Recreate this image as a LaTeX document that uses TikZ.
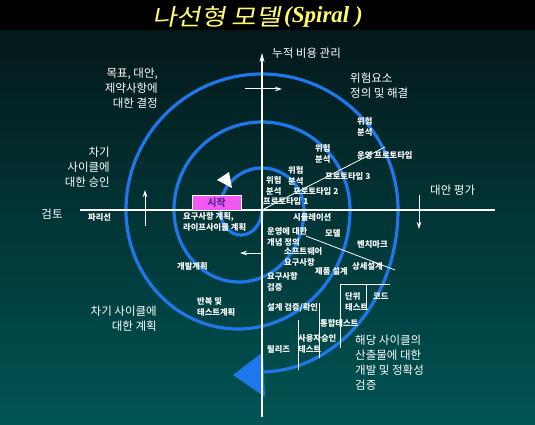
\documentclass[tikz,border=0pt]{standalone}
\usepackage{fontspec}
\newfontfamily\kr{Noto Sans CJK KR}
\newfontfamily\krslant[FakeSlant=0.2,FakeStretch=1.16]{Noto Sans CJK KR}
\newfontfamily\titleserif{Liberation Serif}
\usetikzlibrary{arrows.meta}
\definecolor{spiralblue}{RGB}{30,120,235}
\definecolor{bgtop}{RGB}{4,24,26}
\definecolor{bgbot}{RGB}{0,84,84}
\definecolor{titleyellow}{RGB}{255,255,110}
\definecolor{startpink}{RGB}{240,90,240}
\definecolor{startink}{RGB}{90,40,150}
\begin{document}
\begin{tikzpicture}[x=1pt,y=-1pt,
  spiral/.style={draw=spiralblue,line width=3.2pt},
  axisline/.style={draw=white,line width=1.1pt},
  thinline/.style={draw=white,line width=0.8pt},
  smallarrow/.style={draw=white,line width=1pt,-{Stealth[length=7pt,width=4.5pt]}},
  biglabel/.style={text=white,inner sep=0pt,font=\kr\fontsize{11.5}{15}\selectfont},
  smalllabel/.style={text=white,inner sep=0pt,align=left,font=\kr\bfseries\fontsize{8.3}{10.5}\selectfont},
  startbox/.style={fill=startpink,draw=white,line width=0.6pt,minimum width=49pt,minimum height=15pt,inner sep=0pt,text=startink,font=\kr\bfseries\fontsize{10}{12}\selectfont}
]
\useasboundingbox (0,0) rectangle (535,425);
% background
\shade[top color=bgtop,bottom color=bgbot] (0,30) rectangle (535,425);
\fill[black] (0,0) rectangle (535,30);
% title
\node[anchor=west,inner sep=0pt,text=titleyellow,font=\krslant\fontsize{23}{25}\selectfont] (title1) at (152,17) {나선형 모델};
\node[anchor=west,inner sep=0pt,text=titleyellow,font=\titleserif\bfseries\itshape\fontsize{23}{25}\selectfont] (title2) at (284,17) {(Spiral )};
% spiral
\draw[spiral] (262,210) arc[start angle=0,end angle=180,x radius=21,y radius=25]
  arc[start angle=180,end angle=360,radius=42]
  arc[start angle=0,end angle=180,x radius=65,y radius=72]
  arc[start angle=180,end angle=360,radius=88]
  arc[start angle=0,end angle=180,x radius=112,y radius=119]
  arc[start angle=180,end angle=360,radius=136]
  arc[start angle=0,end angle=90,x radius=138,y radius=162];
\fill[spiralblue] (233,375) -- (263,352) -- (265,397) -- cycle;
\fill[white] (217,180) -- (229,172) -- (232,188) -- cycle;
% axes
\coordinate (vbot) at (262,417);
\coordinate (vtop) at (262,53);
\coordinate (hleft) at (80,210);
\coordinate (hright) at (495,210);
\draw[axisline,-{Stealth[length=9pt,width=5pt]}] (vbot) -- (vtop);
\draw[axisline] (hleft) -- (hright);
% small arrows
\coordinate (a1s) at (145,226); \coordinate (a1e) at (145,190);
\coordinate (a2s) at (245,89);  \coordinate (a2e) at (282,89);
\coordinate (a3s) at (419,195); \coordinate (a3e) at (419,229);
\coordinate (a4s) at (262,253); \coordinate (a4e) at (240,253);
\draw[smallarrow] (a1s) -- (a1e);
\draw[smallarrow] (a2s) -- (a2e);
\draw[smallarrow] (a3s) -- (a3e);
\draw[smallarrow] (a4s) -- (a4e);
% diagonal lines
\coordinate (origin) at (262,210);
\coordinate (d1) at (385,147);
\coordinate (d2s) at (306,236);
\coordinate (d2e) at (395,270);
\draw[thinline] (origin) -- (d1);
\draw[thinline] (d2s) -- (d2e);
% staircase lines
\coordinate (s1) at (340,348); \coordinate (s2) at (340,284); \coordinate (s3) at (390,284);
\coordinate (s4) at (366,284); \coordinate (s5) at (366,310);
\coordinate (s6) at (319,303); \coordinate (s7) at (319,358);
\coordinate (s8) at (298,320); \coordinate (s9) at (298,370);
\draw[thinline] (s1) -- (s2) -- (s3);
\draw[thinline] (s4) -- (s5);
\draw[thinline] (s6) -- (s7);
\draw[thinline] (s8) -- (s9);
% start box
\node[startbox] (start) at (216.5,202.5) {시작};
% big labels
\node[biglabel,anchor=west] (cost) at (272,53) {누적 비용 관리};
\node[biglabel,anchor=east,align=right] (goals) at (158,88) {목표, 대안,\\제약사항에\\대한 결정};
\node[biglabel,anchor=west,align=left] (risk) at (350,86) {위험요소\\정의 및 해결};
\node[biglabel,anchor=east,align=right] (approve) at (110,167) {차기\\사이클에\\대한 승인};
\node[biglabel] (review) at (52,214) {검토};
\node[biglabel,anchor=west] (evalalt) at (430,190) {대안 평가};
\node[biglabel,anchor=east,align=right] (plan) at (157,319) {차기 사이클에\\대한 계획};
\node[biglabel,anchor=west,align=left] (verify) at (355,363) {해당 사이클의\\산출물에 대한\\개발 및 정확성\\검증};
% small labels
\node[smalllabel,anchor=west] (r1) at (357,127) {위험\\분석};
\node[smalllabel,anchor=west] (opproto) at (357,155) {운영 프로토타입};
\node[smalllabel,anchor=west] (r2) at (315,154) {위험\\분석};
\node[smalllabel,anchor=west] (proto3) at (325,176) {프로토타입 3};
\node[smalllabel,anchor=west] (r3) at (288,176) {위험\\분석};
\node[smalllabel,anchor=west] (r4) at (266,186) {위험\\분석};
\node[smalllabel,anchor=west] (proto2) at (293,191) {프로토타입 2};
\node[smalllabel,anchor=west] (proto1) at (263,201) {프로토타입 1};
\node[smalllabel,anchor=west] (reqplan) at (183,222) {요구사항 계획,\\라이프사이클 계획};
\node[smalllabel,anchor=west] (pari) at (88,217) {파리선};
\node[smalllabel,anchor=west] (sim) at (293,217) {시뮬레이션};
\node[smalllabel,anchor=west] (concept) at (267,237) {운영에 대한\\개념 정의};
\node[smalllabel,anchor=west] (model) at (325,233) {모델};
\node[smalllabel,anchor=west] (bench) at (357,244) {벤치마크};
\node[smalllabel,anchor=west] (swreq) at (284,257) {소프트웨어\\요구사항};
\node[smalllabel,anchor=west] (proddes) at (315,271) {제품 설계};
\node[smalllabel,anchor=west] (detdes) at (352,266) {상세설계};
\node[smalllabel,anchor=west] (reqver) at (267,282) {요구사항\\검증};
\node[smalllabel,anchor=west] (desver) at (267,308) {설계 검증/확인};
\node[smalllabel,anchor=west] (unit) at (345,302) {단위\\테스트};
\node[smalllabel,anchor=west] (code) at (373,296) {코드};
\node[smalllabel,anchor=west] (integ) at (320,323) {통합테스트};
\node[smalllabel,anchor=west] (accept) at (298,344) {사용자승인\\테스트};
\node[smalllabel,anchor=west] (release) at (267,349) {릴리즈};
\node[smalllabel,anchor=west] (devplan) at (177,266) {개발계획};
\node[smalllabel,anchor=west] (itplan) at (197,307) {반복 및\\테스트계획};
\end{tikzpicture}
\end{document}
